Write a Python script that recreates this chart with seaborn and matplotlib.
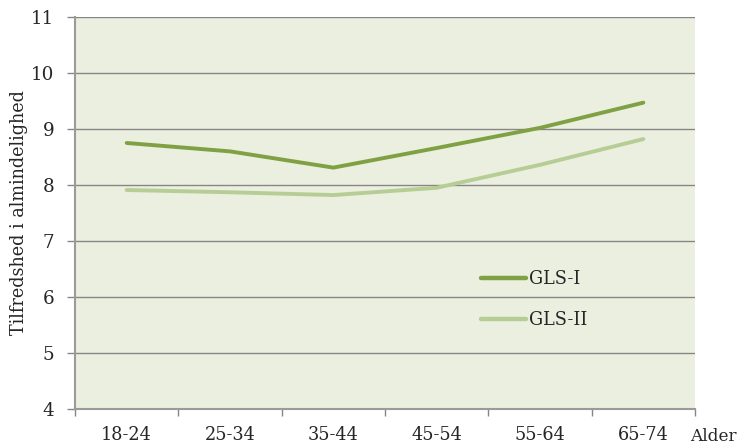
import matplotlib
matplotlib.use("Agg")
import matplotlib.pyplot as plt
import seaborn as sns
import pandas as pd
from matplotlib.ticker import FixedLocator

categories = ["18-24", "25-34", "35-44", "45-54", "55-64", "65-74"]
gls1 = [8.75, 8.60, 8.31, 8.66, 9.02, 9.47]
gls2 = [7.91, 7.87, 7.82, 7.95, 8.36, 8.82]
series_names = ["GLS-I", "GLS-II"]
y_ticks = [4, 5, 6, 7, 8, 9, 10, 11]

df = pd.DataFrame({
    "Alder": categories * 2,
    "value": gls1 + gls2,
    "serie": [series_names[0]] * len(categories) + [series_names[1]] * len(categories),
})

sns.set_style("white")
plt.rcParams["font.family"] = ["DejaVu Serif", "Liberation Serif"]

fig = plt.figure(figsize=(7.39, 4.44), dpi=100)
ax = fig.add_axes([0.1015, 0.0788, 0.839, 0.883])
ax.set_facecolor("#EBEFDF")

palette = {"GLS-I": "#7FA144", "GLS-II": "#B6CE95"}
sns.lineplot(data=df, x="Alder", y="value", hue="serie", palette=palette,
             linewidth=2.8, ax=ax, sort=False, legend=True)
for ln in ax.get_lines():
    ln.set_solid_capstyle("round")

fs = 12.7
ax.set_xlim(-0.5, len(categories) - 0.5)
ax.set_ylim(4, 11)
ax.set_yticks(y_ticks)
ax.set_yticklabels([str(t) for t in y_ticks], fontsize=fs + 0.5)
ax.set_xticks(range(len(categories)))
ax.set_xticklabels(categories, fontsize=fs)
ax.xaxis.set_minor_locator(FixedLocator([i - 0.5 for i in range(len(categories) + 1)]))
ax.tick_params(axis="x", which="major", bottom=True, length=0, pad=12)
ax.tick_params(axis="x", which="minor", bottom=True, length=5, color="#868686", width=1, direction="out")
ax.tick_params(axis="y", which="major", left=True, length=6, color="#868686", width=1, direction="out", pad=9)
ax.grid(axis="y", color="#868686", linewidth=1)
ax.set_axisbelow(True)
for s in ["top", "right"]:
    ax.spines[s].set_visible(False)
for s in ["left", "bottom"]:
    ax.spines[s].set_color("#9A9A9A")
    ax.spines[s].set_linewidth(1.5)

ax.set_xlabel("")
ax.set_ylabel("Tilfredshed i almindelighed", fontsize=fs, labelpad=2)
fig.text(0.965, 0.017, "Alder", fontsize=fs - 0.5, ha="center", va="center")

leg = ax.legend(frameon=False, fontsize=fs, loc="center left",
                bbox_to_anchor=(0.63, 0.28), handlelength=2.5, handletextpad=0.2,
                labelspacing=1.3)
for h in leg.get_lines():
    h.set_linewidth(3.2)

fig.savefig("out.png", dpi=100)
